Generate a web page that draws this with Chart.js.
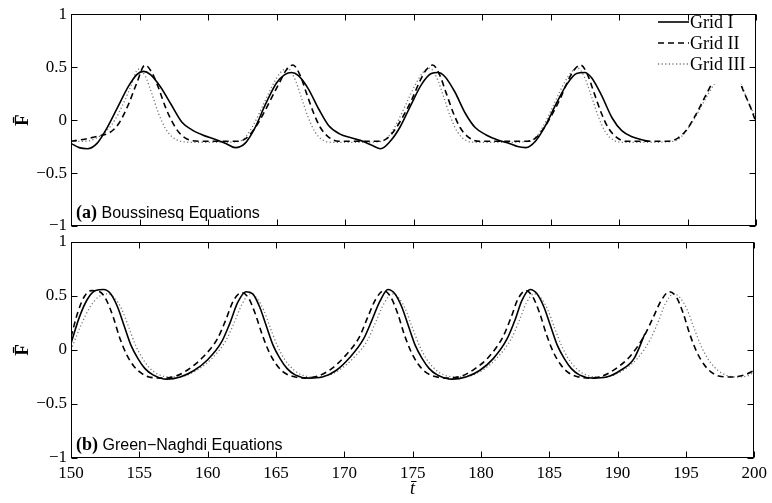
<!DOCTYPE html>
<html><head><meta charset="utf-8">
<script src="https://cdn.jsdelivr.net/npm/chart.js@4.4.1/dist/chart.umd.min.js"></script>
<style>
html,body{margin:0;padding:0;background:#fff;}
#wrap{position:relative;width:772px;height:503px;overflow:hidden;background:#fff;}
canvas{position:absolute;left:0;}
</style></head><body>
<div id="wrap">
<canvas id="ca" width="772" height="245" style="top:0px"></canvas>
<canvas id="cb" width="772" height="278" style="top:225px"></canvas>
</div>
<script>
// ---------- data ----------
const seriesLabels = ['Grid I', 'Grid II', 'Grid III'];
const xTicks = [150, 155, 160, 165, 170, 175, 180, 185, 190, 195, 200];
const yTicks = [-1, -0.5, 0, 0.5, 1];

// (a) Boussinesq
const aG1T = [150,150.6,151.2,151.9,152.6,153.4,154.2,154.8,155.3,155.8,156.5,157.3,158.1,158.8,159.6,160.5,161.3,162.0,162.7,163.4,164.2,165.0,165.6,166.1,166.6,167.3,168.1,168.8,169.6,170.5,171.3,172.0,172.6,173.3,174.0,174.8,175.6,176.3,176.8,177.3,178.0,178.8,179.5,180.3,181.2,182.0,182.6,183.2,183.9,184.6,185.4,186.2,186.9,187.5,188.0,188.7,189.5,190.2,191.0,191.8,192.2];
const aG1F = [-0.22,-0.26,-0.27,-0.22,-0.08,0.12,0.32,0.43,0.46,0.43,0.32,0.15,-0.02,-0.09,-0.14,-0.18,-0.22,-0.26,-0.22,-0.08,0.15,0.35,0.43,0.45,0.42,0.3,0.1,-0.05,-0.13,-0.17,-0.2,-0.24,-0.27,-0.2,-0.07,0.14,0.34,0.44,0.45,0.41,0.27,0.06,-0.07,-0.14,-0.19,-0.22,-0.25,-0.26,-0.2,-0.06,0.15,0.34,0.44,0.45,0.4,0.24,0.02,-0.1,-0.16,-0.19,-0.2];
const aG2T = [150,151,152,152.8,153.5,154.2,154.8,155.4,155.9,156.4,156.9,157.4,157.9,158.5,159.5,161.0,162.2,162.8,163.4,164.0,164.6,165.2,165.7,166.2,166.7,167.2,167.7,168.2,168.8,169.5,171.0,172.5,173.1,173.7,174.3,174.9,175.4,175.9,176.4,176.9,177.4,177.9,178.4,179.0,179.8,181.5,183.3,183.9,184.5,185.1,185.7,186.2,186.7,187.2,187.7,188.2,188.7,189.2,189.8,190.5,192.0,193.5,194.3,195.0,195.6,196.2,196.8,197.3,197.9,198.5,199.1,199.6,200];
const aG2F = [-0.2,-0.18,-0.15,-0.12,-0.03,0.15,0.35,0.52,0.45,0.3,0.12,-0.02,-0.12,-0.18,-0.2,-0.2,-0.2,-0.17,-0.08,0.05,0.2,0.35,0.47,0.52,0.43,0.25,0.07,-0.07,-0.16,-0.2,-0.2,-0.2,-0.17,-0.08,0.05,0.2,0.35,0.47,0.52,0.43,0.25,0.07,-0.07,-0.16,-0.2,-0.2,-0.2,-0.17,-0.08,0.05,0.2,0.35,0.47,0.52,0.43,0.25,0.07,-0.07,-0.16,-0.2,-0.2,-0.2,-0.17,-0.08,0.05,0.2,0.35,0.47,0.52,0.45,0.27,0.12,-0.02];
const aG3T = [150,151,152,152.6,153.2,153.8,154.4,154.9,155.4,155.9,156.4,156.9,157.4,158.0,159.0,161.0,162.3,162.8,163.3,163.8,164.3,164.8,165.3,165.8,166.3,166.8,167.3,167.8,168.4,169.2,171,172.7,173.2,173.7,174.2,174.7,175.2,175.7,176.2,176.7,177.2,177.7,178.2,178.8,179.6,181.5,183.5,184.0,184.5,185.0,185.5,186.0,186.5,187.0,187.5,188.0,188.5,189.0,189.6,190.4,192,194.0,194.6,195.2,195.8,196.4,197.0,197.6,198.2,198.8,199.4,200];
const aG3F = [-0.2,-0.2,-0.16,-0.1,0.0,0.15,0.33,0.48,0.42,0.25,0.06,-0.08,-0.16,-0.2,-0.21,-0.21,-0.2,-0.15,-0.05,0.08,0.22,0.35,0.45,0.49,0.4,0.22,0.03,-0.11,-0.19,-0.21,-0.21,-0.2,-0.15,-0.05,0.08,0.22,0.35,0.45,0.49,0.4,0.22,0.03,-0.11,-0.19,-0.21,-0.21,-0.2,-0.15,-0.05,0.08,0.22,0.35,0.45,0.49,0.4,0.22,0.03,-0.11,-0.19,-0.21,-0.21,-0.2,-0.15,-0.05,0.08,0.22,0.35,0.45,0.49,0.38,0.18,0.02];

// (b) Green-Naghdi
const bG1T = [150,150.6,151.2,151.8,152.4,152.9,153.4,153.9,154.4,154.9,155.4,156.0,157.0,158.0,159.0,160.0,161.0,161.6,162.2,162.8,163.3,163.8,164.3,164.8,165.3,165.8,166.4,167.4,168.4,169.4,170.4,171.4,172.0,172.6,173.2,173.7,174.2,174.7,175.2,175.7,176.2,176.8,177.9,178.9,179.9,180.9,181.9,182.5,183.0,183.6,184.1,184.6,185.1,185.6,186.1,186.6,187.2,188.2,189.2,190.2,191.2,192.0];
const bG1F = [0.06,0.3,0.47,0.55,0.56,0.52,0.4,0.22,0.04,-0.08,-0.17,-0.23,-0.27,-0.25,-0.19,-0.09,0.07,0.24,0.44,0.54,0.52,0.4,0.22,0.04,-0.08,-0.17,-0.23,-0.26,-0.25,-0.19,-0.07,0.1,0.27,0.45,0.56,0.52,0.4,0.22,0.04,-0.08,-0.17,-0.23,-0.27,-0.25,-0.19,-0.08,0.1,0.28,0.46,0.56,0.52,0.4,0.22,0.04,-0.08,-0.17,-0.23,-0.26,-0.25,-0.19,-0.08,0.15];
const bG2T = [150,150.5,151.0,151.5,152.1,152.6,153.1,153.6,154.1,154.6,155.1,155.7,156.7,157.7,158.7,159.7,160.7,161.3,161.9,162.5,163.0,163.5,164.0,164.5,165.0,165.5,166.1,167.1,168.1,169.1,170.1,171.1,171.7,172.3,172.9,173.4,173.9,174.4,174.9,175.4,175.9,176.5,177.6,178.6,179.6,180.6,181.6,182.2,182.7,183.3,183.8,184.3,184.8,185.3,185.8,186.3,186.9,187.9,188.9,189.9,190.9,191.9,192.6,193.2,193.8,194.3,194.8,195.3,195.8,196.3,196.8,197.4,198.4,199.3,200];
const bG2F = [0.12,0.35,0.5,0.55,0.54,0.46,0.3,0.1,-0.05,-0.15,-0.21,-0.25,-0.26,-0.24,-0.17,-0.06,0.1,0.27,0.46,0.53,0.48,0.33,0.14,-0.02,-0.13,-0.2,-0.24,-0.26,-0.24,-0.17,-0.05,0.12,0.3,0.47,0.55,0.49,0.34,0.14,-0.02,-0.13,-0.2,-0.24,-0.26,-0.24,-0.17,-0.06,0.12,0.3,0.47,0.55,0.49,0.34,0.14,-0.02,-0.13,-0.2,-0.24,-0.26,-0.24,-0.17,-0.06,0.12,0.3,0.46,0.54,0.49,0.34,0.14,-0.02,-0.13,-0.2,-0.24,-0.25,-0.23,-0.19];
const bG3T = [150,150.7,151.4,152.0,152.7,153.2,153.7,154.2,154.7,155.2,155.7,156.3,157.3,158.3,159.3,160.3,161.3,161.9,162.5,163.1,163.6,164.1,164.6,165.1,165.6,166.1,166.7,167.7,168.7,169.7,170.7,171.7,172.3,172.9,173.5,174.0,174.5,175.0,175.5,176.0,176.5,177.1,178.2,179.2,180.2,181.2,182.2,182.8,183.3,183.9,184.4,184.9,185.4,185.9,186.4,186.9,187.5,188.5,189.5,190.5,191.5,192.4,193.0,193.5,194.1,194.6,195.1,195.6,196.1,196.6,197.1,197.7,198.7,199.5,200];
const bG3F = [0.0,0.22,0.4,0.49,0.52,0.48,0.38,0.22,0.05,-0.07,-0.16,-0.22,-0.25,-0.24,-0.18,-0.08,0.08,0.24,0.42,0.52,0.48,0.37,0.2,0.04,-0.08,-0.16,-0.22,-0.25,-0.24,-0.18,-0.07,0.09,0.26,0.43,0.52,0.48,0.37,0.2,0.04,-0.08,-0.16,-0.22,-0.25,-0.24,-0.18,-0.07,0.1,0.27,0.43,0.52,0.48,0.37,0.2,0.04,-0.08,-0.16,-0.22,-0.25,-0.24,-0.18,-0.07,0.1,0.27,0.43,0.52,0.48,0.37,0.2,0.04,-0.08,-0.16,-0.22,-0.25,-0.24,-0.2];

// ---------- helpers ----------
const pts = (T, F) => T.map((t, i) => ({x: t, y: F[i]}));
const styles = [
  {borderColor: '#000', borderWidth: 1.6, borderDash: []},
  {borderColor: '#000', borderWidth: 1.6, borderDash: [6, 4]},
  {borderColor: '#777', borderWidth: 1.3, borderDash: [1.2, 2.4]}
];
function makeDatasets(list) {
  return list.map((d, i) => Object.assign({
    label: seriesLabels[i], data: pts(d[0], d[1]),
    pointRadius: 0, fill: false, cubicInterpolationMode: 'monotone', borderCapStyle: 'butt'
  }, styles[i]));
}
const yFmt = v => (v < 0 ? '\u2212' : '') + Math.abs(v);
const SERIF = "'Liberation Serif', 'Times New Roman', serif";
const SANS = "'Liberation Sans', Arial, sans-serif";

const framePlugin = {
  id: 'frame',
  afterDatasetsDraw(chart, args, opts) {
    const {ctx, chartArea: a} = chart;
    const x = chart.scales.x, y = chart.scales.y;
    ctx.save();
    ctx.setLineDash([]);
    ctx.strokeStyle = '#000'; ctx.lineWidth = 1;
    const L = Math.round(a.left) + 0.5, R = Math.round(a.right) - 0.5;
    const T = Math.round(a.top) + 0.5, B = Math.round(a.bottom) - 0.5;
    // legend (white box behind)
    if (opts.legend) {
      const lx = 655, ly = 12, rowH = 21;
      ctx.fillStyle = '#fff';
      ctx.fillRect(lx, ly, R - lx - 1, 72);
      chart.data.datasets.forEach((ds, i) => {
        const cy = ly + 10 + i * rowH;
        ctx.save();
        ctx.strokeStyle = ds.borderColor; ctx.lineWidth = ds.borderWidth;
        ctx.setLineDash(ds.borderDash || []);
        ctx.beginPath(); ctx.moveTo(lx + 3, cy); ctx.lineTo(lx + 34, cy); ctx.stroke();
        ctx.restore();
        ctx.fillStyle = '#000'; ctx.font = '18px ' + SERIF;
        ctx.textBaseline = 'middle'; ctx.textAlign = 'left';
        ctx.fillText(ds.label, lx + 35, cy + 1);
      });
    }
    ctx.strokeRect(L, T, R - L, B - T);
    const tl = 6;
    ctx.beginPath();
    x.ticks.forEach(t => {
      const px = Math.round(x.getPixelForValue(t.value)) + 0.5;
      ctx.moveTo(px, B); ctx.lineTo(px, B - tl);
      ctx.moveTo(px, T); ctx.lineTo(px, T + tl);
    });
    y.ticks.forEach(t => {
      const py = Math.round(y.getPixelForValue(t.value)) + 0.5;
      ctx.moveTo(L, py); ctx.lineTo(L + tl, py);
      ctx.moveTo(R, py); ctx.lineTo(R - tl, py);
    });
    ctx.stroke();
    // panel label
    if (opts.tag) {
      ctx.fillStyle = '#000'; ctx.textBaseline = 'alphabetic'; ctx.textAlign = 'left';
      ctx.font = 'bold 18px ' + SERIF;
      const bx = a.left + 5, by = a.bottom - 8;
      ctx.fillText(opts.tag, bx, by);
      const w = ctx.measureText(opts.tag + ' ').width;
      ctx.font = '16px ' + SANS;
      ctx.fillText(opts.text, bx + w, by);
    }
    ctx.restore();
  }
};

function makeChart(id, datasets, showX, padTop, padBottom, tag, text, legend) {
  return new Chart(document.getElementById(id), {
    type: 'line',
    data: {datasets: datasets},
    plugins: [framePlugin],
    options: {
      responsive: false, animation: false, devicePixelRatio: 1,
      layout: {padding: {top: padTop, right: 16, bottom: padBottom, left: 0}},
      plugins: {legend: {display: false}, tooltip: {enabled: false},
        frame: {tag: tag, text: text, legend: legend}},
      scales: {
        x: {
          type: 'linear', min: 150, max: 200, display: showX,
          afterBuildTicks: s => { s.ticks = xTicks.map(v => ({value: v})); },
          grid: {display: false, drawTicks: false}, border: {display: false},
          ticks: {font: {family: SERIF, size: 17}, color: '#000', padding: 5, maxRotation: 0, autoSkip: false},
          title: {display: true, text: 't\u0304', font: {family: SERIF, size: 18, style: 'italic'}, color: '#000', padding: {top: 0, bottom: 3}},
          afterFit: s => { s.height = showX ? 45 : 0; }
        },
        y: {
          min: -1, max: 1,
          afterBuildTicks: s => { s.ticks = yTicks.map(v => ({value: v})); },
          grid: {display: false, drawTicks: false}, border: {display: false},
          ticks: {font: {family: SERIF, size: 17}, color: '#000', padding: 4, callback: yFmt},
          title: {display: true, text: 'F\u0304', font: {family: SERIF, size: 19, weight: 'bold'}, color: '#000', padding: {top: 12, bottom: 0}},
          afterFit: s => { s.width = 71; }
        }
      }
    }
  });
}

makeChart('ca', makeDatasets([[aG1T, aG1F], [aG2T, aG2F], [aG3T, aG3F]]), false, 11, 19,
  '(a)', 'Boussinesq Equations', true);
makeChart('cb', makeDatasets([[bG1T, bG1F], [bG2T, bG2F], [bG3T, bG3F]]), true, 17, 0,
  '(b)', 'Green\u2212Naghdi Equations', false);
</script>
</body></html>
